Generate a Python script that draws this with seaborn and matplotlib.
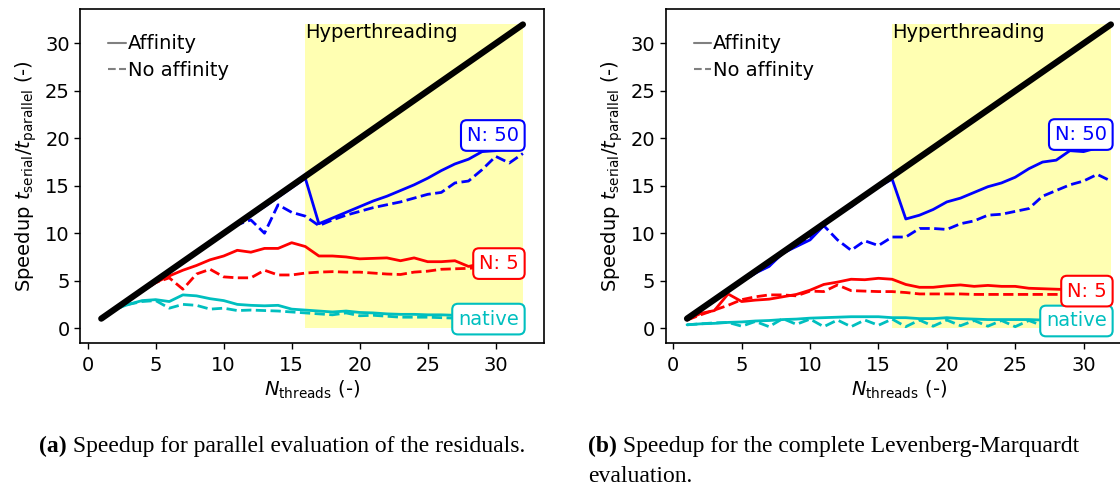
import numpy as np
import pandas as pd
import matplotlib
matplotlib.use("Agg")
import matplotlib.pyplot as plt
from matplotlib.lines import Line2D
import seaborn as sns

# ---------------- data ----------------
threads = list(range(1, 33))

# (a) residual evaluation
a_native_aff = [1.0, 2.0, 2.5, 2.9, 3.0, 2.8, 3.5, 3.4, 3.1, 2.9, 2.5, 2.4, 2.35, 2.4, 2.0, 1.9,
                1.8, 1.7, 1.8, 1.65, 1.6, 1.5, 1.45, 1.45, 1.4, 1.4, 1.35, 1.2, 1.1, 1.1, 1.0, 1.0]
a_native_noaff = [1.0, 2.0, 2.5, 2.8, 2.9, 2.1, 2.5, 2.4, 2.0, 2.1, 1.85, 1.9, 1.85, 1.8, 1.7, 1.6,
                  1.5, 1.4, 1.6, 1.3, 1.35, 1.25, 1.15, 1.15, 1.15, 1.1, 1.05, 1.0, 1.0, 1.0, 1.0, 1.0]
a_n5_aff = [1.0, 1.95, 2.9, 3.9, 4.8, 5.5, 6.1, 6.6, 7.2, 7.6, 8.2, 8.0, 8.4, 8.4, 9.0, 8.6,
            7.6, 7.6, 7.5, 7.3, 7.35, 7.4, 7.1, 7.4, 7.0, 7.0, 7.1, 6.5, 6.8, 6.9, 6.9, 6.9]
a_n5_noaff = [1.0, 1.95, 2.9, 3.9, 4.8, 5.3, 4.1, 5.7, 6.2, 5.4, 5.3, 5.3, 6.1, 5.6, 5.6, 5.8,
              5.9, 5.95, 5.9, 5.9, 5.8, 5.7, 5.65, 5.9, 6.0, 6.2, 6.25, 6.3, 6.4, 6.5, 6.5, 6.5]
a_n50_aff = [1.0, 2.0, 3.0, 3.95, 4.95, 5.9, 6.9, 7.9, 8.9, 9.9, 10.9, 11.9, 12.8, 13.8, 14.8, 15.8,
             11.0, 11.6, 12.2, 12.8, 13.4, 13.9, 14.5, 15.1, 15.8, 16.6, 17.3, 17.8, 18.6, 18.7, 19.0, 19.3]
a_n50_noaff = [1.0, 2.0, 3.0, 3.95, 4.95, 5.9, 6.9, 7.9, 8.9, 9.9, 10.9, 11.4, 10.0, 13.0, 12.2, 11.8,
               10.8, 11.4, 11.9, 12.3, 12.7, 13.0, 13.3, 13.7, 14.1, 14.3, 15.3, 15.5, 16.7, 18.1, 17.4, 18.4]

# (b) complete Levenberg-Marquardt evaluation
b_native_aff = [0.35, 0.45, 0.5, 0.6, 0.65, 0.75, 0.8, 0.9, 0.95, 1.05, 1.1, 1.15, 1.2, 1.2, 1.2, 1.1,
                1.1, 1.0, 1.0, 1.1, 1.0, 0.95, 0.9, 0.9, 0.9, 0.9, 0.85, 0.85, 0.8, 0.8, 0.8, 0.8]
b_native_noaff = [0.35, 0.45, 0.55, 0.6, 0.2, 0.7, 0.15, 1.0, 0.4, 0.95, 0.15, 0.85, 0.15, 0.85, 0.3, 0.95,
                  0.15, 0.85, 0.2, 0.85, 0.25, 0.8, 0.2, 0.8, 0.15, 0.8, 0.25, 0.7, 0.3, 0.7, 0.3, 0.7]
b_n5_aff = [0.85, 1.55, 1.85, 3.6, 2.8, 2.95, 3.05, 3.3, 3.55, 4.0, 4.6, 4.85, 5.15, 5.1, 5.25, 5.15,
            4.6, 4.3, 4.3, 4.45, 4.55, 4.4, 4.5, 4.4, 4.4, 4.2, 4.15, 4.1, 4.05, 4.0, 4.0, 4.0]
b_n5_noaff = [0.85, 1.4, 1.9, 2.4, 3.0, 3.3, 3.5, 3.5, 3.4, 3.9, 3.85, 4.55, 3.95, 3.9, 3.85, 3.85,
              3.75, 3.6, 3.6, 3.6, 3.6, 3.55, 3.55, 3.55, 3.55, 3.55, 3.55, 3.55, 3.55, 3.55, 3.55, 3.55]
b_n50_aff = [1.0, 1.95, 2.9, 3.9, 4.9, 5.8, 6.5, 7.9, 8.6, 9.3, 10.8, 12.1, 12.8, 13.9, 14.9, 15.7,
             11.5, 11.9, 12.5, 13.3, 13.7, 14.3, 14.9, 15.3, 15.9, 16.8, 17.5, 17.7, 18.7, 18.6, 19.0, 19.2]
b_n50_noaff = [1.0, 1.95, 2.9, 3.9, 4.9, 5.8, 6.6, 7.9, 8.7, 9.6, 10.8, 9.3, 8.2, 9.2, 8.7, 9.6,
               9.6, 10.5, 10.5, 10.4, 11.0, 11.3, 11.9, 12.0, 12.3, 12.6, 13.9, 14.5, 15.1, 15.5, 16.2, 15.5]

series_names = ["native", "N: 5", "N: 50"]
series_colors = ["c", "r", "b"]
ht_start, ht_end = 16, 32  # hyperthreading region

captions = [("(a)", " Speedup for parallel evaluation of the residuals.", None),
            ("(b)", " Speedup for the complete Levenberg-Marquardt", "evaluation.")]

panels = [
    dict(aff=[a_native_aff, a_n5_aff, a_n50_aff],
         noaff=[a_native_noaff, a_n5_noaff, a_n50_noaff],
         label_y=[0.95, 6.8, 20.3]),
    dict(aff=[b_native_aff, b_n5_aff, b_n50_aff],
         noaff=[b_native_noaff, b_n5_noaff, b_n50_noaff],
         label_y=[0.75, 3.9, 20.4]),
]

# ---------------- style ----------------
sns.set_style("ticks", {"axes.edgecolor": "black", "xtick.color": "black",
                        "ytick.color": "black", "text.color": "black",
                        "axes.labelcolor": "black"})
plt.rcParams["font.family"] = ["DejaVu Sans"]
plt.rcParams["font.size"] = 14
plt.rcParams["mathtext.fontset"] = "dejavusans"

FS = 14
fig = plt.figure(figsize=(11.2, 4.87), dpi=100)
axes_pos = [[0.0716, 0.2951, 0.4141, 0.6858],
            [0.5945, 0.2951, 0.4163, 0.6858]]

for k, panel in enumerate(panels):
    ax = fig.add_axes(axes_pos[k])
    ax.fill_between([ht_start, ht_end], 0, ht_end, color="yellow", alpha=0.3,
                    linewidth=0, zorder=0)
    ax.text(ht_start, ht_end + 0.2, "Hyperthreading", ha="left", va="top", fontsize=FS, zorder=1)
    for name, col, ya, yn, ly in zip(series_names, series_colors, panel["aff"],
                                     panel["noaff"], panel["label_y"]):
        df = pd.DataFrame({"threads": threads, "aff": ya, "noaff": yn})
        sns.lineplot(data=df, x="threads", y="aff", color=col, lw=2, ax=ax, zorder=2)
        sns.lineplot(data=df, x="threads", y="noaff", color=col, lw=2, ls="--", ax=ax, zorder=2)
        ax.text(31.7, ly, name, color=col, ha="right", va="center", fontsize=FS, zorder=5,
                bbox=dict(boxstyle="round,pad=0.3", fc="white", ec=col, lw=1.5))
    sns.lineplot(x=threads, y=threads, color="black", lw=4.5, ax=ax, zorder=3)
    ax.set_xlim(-0.55, 33.55)
    ax.set_ylim(-1.6, 33.6)
    ax.set_xticks([0, 5, 10, 15, 20, 25, 30])
    ax.set_yticks([0, 5, 10, 15, 20, 25, 30])
    ax.tick_params(labelsize=FS, length=4, width=1)
    ax.tick_params(axis="x", pad=5)
    for s in ax.spines.values():
        s.set_linewidth(1.2)
    ax.set_xlabel(r"$N_{\mathrm{threads}}$ (-)", fontsize=FS, labelpad=3)
    ax.set_ylabel(r"Speedup $t_{\mathrm{serial}}/t_{\mathrm{parallel}}$ (-)", fontsize=FS, labelpad=4)
    handles = [Line2D([], [], color="gray", lw=1.5, ls="-"),
               Line2D([], [], color="gray", lw=1.5, ls="--")]
    ax.legend(handles, ["Affinity", "No affinity"], loc="upper left", frameon=False,
              bbox_to_anchor=(0.035, 0.96), handlelength=0.9, handletextpad=0.1,
              fontsize=FS, labelspacing=0.4, borderaxespad=0.2)

# captions
CFS = 17
cap_x = [39 / 1120, 588 / 1120]
cap_y1 = 1 - 451.7 / 487
cap_y2 = 1 - 481.7 / 487
for (bold, rest, line2), x in zip(captions, cap_x):
    t = fig.text(x, cap_y1, bold, fontsize=CFS, weight="bold",
                 family="Liberation Serif", va="baseline", ha="left")
    fig.canvas.draw()
    bb = t.get_window_extent()
    fig.text(bb.x1 / fig.bbox.width, cap_y1, rest, fontsize=CFS, family="Liberation Serif",
             va="baseline", ha="left")
    if line2:
        fig.text(x, cap_y2, line2, fontsize=CFS, family="Liberation Serif",
                 va="baseline", ha="left")

fig.savefig("out.png", dpi=100)
